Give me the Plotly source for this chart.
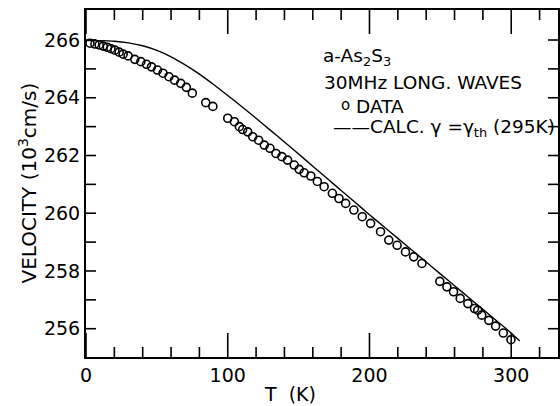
import plotly.graph_objects as go

# ---- data ----
data_T = [2.8, 6.3, 9.3, 12.2, 15.0, 17.6, 20.4, 23.4, 26.2, 29.7, 34.4, 38.7, 42.7, 46.2,
          50.4, 54.3, 58.5, 62.5, 66.8, 70.8, 75.0, 84.5, 89.5, 100.0, 104.7, 108.2, 110.5,
          114.1, 117.6, 121.8, 125.8, 129.8, 134.0, 138.2, 142.2, 146.9, 150.4, 153.9, 158.6,
          163.2, 168.0, 173.8, 178.5, 183.2, 189.0, 194.9, 200.8, 207.8, 213.6, 219.5, 225.4,
          231.2, 237.0, 249.6, 254.6, 259.3, 264.0, 269.4, 274.1, 276.4, 279.2, 284.2, 289.0,
          294.4, 299.8]
data_V = [265.89, 265.86, 265.83, 265.79, 265.75, 265.70, 265.65, 265.58, 265.51, 265.45,
          265.33, 265.25, 265.16, 265.07, 264.96, 264.85, 264.73, 264.61, 264.50, 264.36,
          264.16, 263.83, 263.70, 263.29, 263.17, 263.00, 262.90, 262.82, 262.65, 262.53,
          262.36, 262.25, 262.07, 261.96, 261.84, 261.67, 261.52, 261.40, 261.29, 261.10,
          260.92, 260.69, 260.51, 260.34, 260.11, 259.88, 259.65, 259.36, 259.07, 258.89,
          258.66, 258.49, 258.26, 257.64, 257.45, 257.28, 257.05, 256.87, 256.70, 256.64,
          256.47, 256.29, 256.09, 255.85, 255.62]

calc_T = [1, 10, 20, 30, 40, 50, 60, 70, 80, 90, 100, 110, 120, 130, 140, 150, 160, 170,
          180, 190, 200, 210, 220, 230, 240, 250, 260, 270, 280, 290, 300, 306]
calc_V = [265.98, 265.98, 265.96, 265.90, 265.80, 265.64, 265.42, 265.14, 264.82, 264.46,
          264.08, 263.69, 263.29, 262.88, 262.47, 262.05, 261.63, 261.21, 260.79, 260.37,
          259.95, 259.54, 259.13, 258.72, 258.31, 257.90, 257.49, 257.08, 256.67, 256.26,
          255.85, 255.57]

X_RANGE = [0, 333]
Y_RANGE = [255.02, 267.04]

x_major = [0, 100, 200, 300]
x_minor = [20, 40, 60, 80, 120, 140, 160, 180, 220, 240, 260, 280, 320]
y_labels = [256, 258, 260, 262, 264, 266]
y_all = [256, 257, 258, 259, 260, 261, 262, 263, 264, 265, 266]

FONT = "DejaVu Sans"
W, H = 560, 406
ML, MR, MT, MB = 86, 0, 10, 49

fig = go.Figure()
fig.add_trace(go.Scatter(x=calc_T, y=calc_V, mode="lines",
                         line=dict(color="black", width=1.4, shape="spline", smoothing=0.6),
                         showlegend=False, hoverinfo="skip"))
fig.add_trace(go.Scatter(x=data_T, y=data_V, mode="markers",
                         marker=dict(symbol="circle-open", size=8, color="black",
                                     line=dict(width=1.6, color="black")),
                         showlegend=False))

# inward tick marks on all four frame edges, built from the tick lists and axis ranges
dx = (X_RANGE[1] - X_RANGE[0]) / (W - ML - MR)   # data units per pixel
dy = (Y_RANGE[1] - Y_RANGE[0]) / (H - MT - MB)
tx, ty = [], []
for vals, length in ((x_major, 24), (x_minor, 10)):
    for v in vals:
        tx += [v, v, None, v, v, None]
        ty += [Y_RANGE[0], Y_RANGE[0] + length * dy, None,
               Y_RANGE[1], Y_RANGE[1] - length * dy, None]
for v in y_all:
    tx += [X_RANGE[0], X_RANGE[0] + 10 * dx, None, X_RANGE[1], X_RANGE[1] - 10 * dx, None]
    ty += [v, v, None, v, v, None]
fig.add_trace(go.Scatter(x=tx, y=ty, mode="lines", connectgaps=False,
                         line=dict(color="black", width=1.6),
                         showlegend=False, hoverinfo="skip"))

fig.update_layout(
    xaxis=dict(range=X_RANGE, tickvals=x_major, ticks="",
               showline=True, linecolor="black", linewidth=2, mirror=True,
               showgrid=False, zeroline=False,
               tickfont=dict(family=FONT, size=19, color="black")),
    yaxis=dict(range=Y_RANGE, tickvals=y_labels, ticks="",
               showline=True, linecolor="black", linewidth=2, mirror=True,
               showgrid=False, zeroline=False,
               tickfont=dict(family=FONT, size=19, color="black")),
)

tf = dict(family=FONT, size=18.5, color="black")
ann = [
    dict(x=165.8, y=265.42, text="a-As<sub>2</sub>S<sub>3</sub>", xanchor="left"),
    dict(x=166.3, y=264.52, text="30MHz LONG. WAVES", xanchor="left"),
    dict(x=189.2, y=263.71, text="DATA", xanchor="left"),
    dict(x=172.7, y=262.94, text="——CALC. γ =γ<sub>th</sub> (295K)", xanchor="left"),
]
for a in ann:
    fig.add_annotation(xref="x", yref="y", showarrow=False, font=tf, yanchor="middle", **a)
fig.add_annotation(xref="x", yref="y", x=183.2, y=263.74, text="o", showarrow=False,
                   xanchor="center", yanchor="middle", font=dict(family=FONT, size=15, color="black"))

# axis titles
fig.add_annotation(xref="x", yref="paper", x=144, y=-0.108, text="T  (K)", showarrow=False,
                   xanchor="center", yanchor="middle", font=dict(family=FONT, size=19, color="black"))
fig.add_annotation(xref="paper", yref="paper", x=-0.125, y=0.5, text="VELOCITY (10<sup>3</sup>cm/s)",
                   textangle=-90, showarrow=False, xanchor="center", yanchor="middle",
                   font=dict(family=FONT, size=20, color="black"))

fig.update_layout(width=W, height=H, margin=dict(l=ML, r=MR, t=MT, b=MB),
                  paper_bgcolor="white", plot_bgcolor="white")
fig.write_html("out.html")
